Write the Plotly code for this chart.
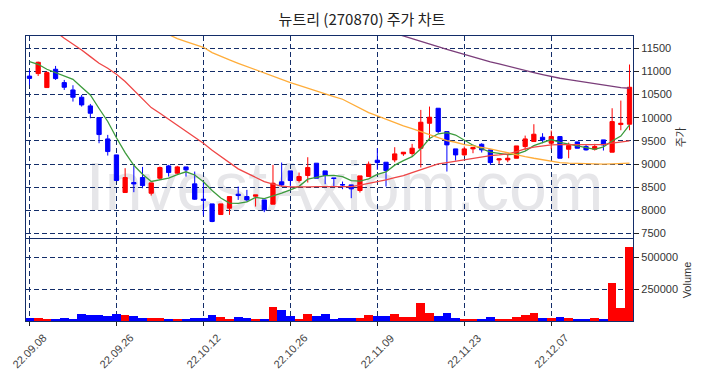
import plotly.graph_objects as go

dates = [
    "22.09.08", "22.09.13", "22.09.14", "22.09.15", "22.09.16", "22.09.19", "22.09.20", "22.09.21",
    "22.09.22", "22.09.23", "22.09.26", "22.09.27", "22.09.28", "22.09.29", "22.09.30",
    "22.10.04", "22.10.05", "22.10.06", "22.10.07", "22.10.11", "22.10.12", "22.10.13", "22.10.14",
    "22.10.17", "22.10.18", "22.10.19", "22.10.20", "22.10.21", "22.10.24", "22.10.25", "22.10.26",
    "22.10.27", "22.10.28", "22.10.31",
    "22.11.01", "22.11.02", "22.11.03", "22.11.04", "22.11.07", "22.11.08", "22.11.09", "22.11.10",
    "22.11.11", "22.11.14", "22.11.15", "22.11.16", "22.11.17", "22.11.18", "22.11.21", "22.11.22",
    "22.11.23", "22.11.24", "22.11.25", "22.11.28", "22.11.29", "22.11.30",
    "22.12.01", "22.12.02", "22.12.05", "22.12.06", "22.12.07", "22.12.08", "22.12.09", "22.12.12",
    "22.12.13", "22.12.14", "22.12.15", "22.12.16", "22.12.19", "22.12.20",
]

opens = [10900, 10954, 10652, 11047, 10759, 10601, 10443, 10256, 10005, 9544,
         9199, 8387, 8602, 8710, 8372, 8696, 8962, 8804, 8940, 8574,
         8243, 8142, 7912, 8049, 8350, 8300, 8307, 8228, 8135, 8617,
         8854, 8646, 8754, 9020, 8854, 8703, 8559, 8552, 8430, 8732,
         9084, 9041, 9091, 9221, 9230, 9343, 9882, 10206, 9703, 9329,
         9199, 9329, 9429, 9307, 9091, 9091, 9127, 9379, 9487, 9580,
         9451, 9595, 9321, 9480, 9379, 9321, 9523, 9257, 9854, 9861]
highs = [11030, 11212, 11000, 11119, 10817, 10702, 10493, 10299, 10005, 9631,
         9199, 8912, 8962, 8940, 8595, 8948, 8984, 8962, 8940, 8840,
         8624, 8142, 8142, 8300, 8516, 8444, 8336, 8228, 8984, 9034,
         8854, 8818, 9149, 9020, 8854, 8703, 8624, 8552, 8746, 9056,
         9343, 9041, 9365, 9257, 9437, 10170, 10242, 10206, 9703, 9329,
         9379, 9357, 9451, 9307, 9127, 9199, 9393, 9616, 9861, 9667,
         9724, 9595, 9465, 9480, 9429, 9437, 9523, 10206, 10371, 11150]
lows = [10710, 10903, 10652, 10817, 10601, 10350, 10242, 9990, 9451, 9185,
        8646, 8387, 8394, 8480, 8322, 8660, 8732, 8790, 8732, 8229,
        7891, 7747, 7905, 7905, 8228, 8193, 8084, 7963, 8135, 8516,
        8516, 8602, 8602, 8696, 8567, 8516, 8459, 8265, 8387, 8732,
        8876, 8516, 9041, 9178, 9178, 8926, 9523, 9667, 8840, 9077,
        9178, 9235, 9250, 8984, 9005, 9041, 9127, 9307, 9487, 9451,
        9321, 9127, 9127, 9343, 9293, 9293, 9293, 9257, 9731, 9731]
closes = [10850, 11198, 10975, 10846, 10659, 10443, 10278, 10098, 9638, 9271,
          8646, 8710, 8573, 8537, 8595, 8926, 8818, 8940, 8876, 8243,
          8221, 7761, 8142, 8300, 8322, 8228, 8336, 8013, 8588, 8552,
          8646, 8732, 8926, 8696, 8754, 8689, 8552, 8466, 8746, 8998,
          9034, 8861, 9221, 9257, 9343, 9904, 10012, 9703, 9415, 9199,
          9329, 9357, 9307, 9034, 9113, 9127, 9393, 9544, 9645, 9523,
          9595, 9127, 9400, 9343, 9307, 9379, 9415, 9918, 9882, 10659]

volumes = [23700, 23700, 15800, 15800, 23700, 15800, 55000, 47000, 47000, 39000,
           55000, 47000, 39000, 23700, 23700, 23700, 15800, 8000, 15800, 23700,
           23700, 47000, 31500, 8000, 31500, 23700, 8000, 15800, 110000, 87000,
           39000, 15800, 55000, 39000, 55000, 15800, 23700, 23700, 23700, 47000,
           39000, 39000, 55000, 31500, 31500, 142000, 63000, 39000, 63000, 23700,
           15800, 8000, 15800, 31500, 8000, 15800, 31500, 47000, 63000, 23700,
           23700, 31500, 23700, 8000, 8000, 23700, 15800, 300000, 102000, 584000]

ma5 = [11212, 11155, 11047, 10975, 10903, 10831, 10659, 10493, 10200, 9920,
       9570, 9250, 8975, 8780, 8625, 8670, 8700, 8775, 8835, 8765,
       8620, 8430, 8270, 8160, 8155, 8185, 8280, 8255, 8310, 8375,
       8445, 8520, 8675, 8720, 8750, 8755, 8728, 8645, 8632, 8682,
       8780, 8830, 8978, 9075, 9160, 9330, 9553, 9655, 9678, 9628,
       9510, 9408, 9332, 9258, 9231, 9205, 9215, 9280, 9400, 9470,
       9530, 9470, 9435, 9395, 9360, 9320, 9374, 9500, 9605, 9848]
ma20 = [12205, 12090, 11975, 11860, 11716, 11593, 11464, 11320, 11176, 11069,
        10939, 10781, 10601, 10421, 10220, 10098, 9969, 9825, 9703, 9580,
        9451, 9300, 9163, 9027, 8897, 8804, 8717, 8624, 8567, 8523,
        8509, 8502, 8509, 8516, 8516, 8516, 8516, 8516, 8545, 8581,
        8624, 8660, 8710, 8753, 8818, 8876, 8933, 9005, 9034, 9063,
        9106, 9127, 9163, 9185, 9199, 9221, 9271, 9329, 9365, 9393,
        9415, 9422, 9422, 9415, 9408, 9408, 9422, 9451, 9472, 9501]
ma60 = [None] * 12 + [
        12147, 12061, 11975, 11888, 11795, 11709, 11644, 11586,
        11522, 11407, 11320, 11248, 11176, 11104, 11032, 10961, 10889, 10817,
        10759, 10702, 10637, 10580, 10515, 10458, 10400, 10299, 10206, 10112,
        10040, 9969, 9882, 9825, 9767, 9703, 9638, 9566, 9508, 9472,
        9422, 9393, 9365, 9329, 9286, 9242, 9206, 9163, 9127, 9091,
        9055, 9034, 9020, 9012, 9005, 8998, 8998, 9005, 9012, 9020]
ma120 = [None] * 38 + [
         12054, 11996,
         11939, 11881, 11824, 11752, 11694, 11637, 11579, 11536, 11478, 11421,
         11363, 11306, 11263, 11205, 11162, 11112, 11069, 11018, 10975, 10932,
         10889, 10853, 10824, 10795, 10767, 10731, 10702, 10673, 10652, 10637]

price_ticks = [7500, 8000, 8500, 9000, 9500, 10000, 10500, 11000, 11500]
vol_ticks = [250000, 500000]
x_tick_labels = ["22.09.08", "22.09.26", "22.10.12", "22.10.26", "22.11.09", "22.11.23", "22.12.07"]

UP = "#FF0000"
DOWN = "#0000FF"
NAVY = "#132d69"
GRID_DASH = "5px,3px"

W, H = 696, 370

fig = go.Figure()

fig.add_trace(go.Candlestick(
    x=dates, open=opens, high=highs, low=lows, close=closes,
    increasing=dict(line=dict(color=UP, width=1), fillcolor=UP),
    decreasing=dict(line=dict(color=DOWN, width=1), fillcolor=DOWN),
    whiskerwidth=0, showlegend=False, hoverinfo="skip",
    xaxis="x", yaxis="y",
))

for vals, col in [(ma5, "#3c9b3c"), (ma20, "#ef4646"), (ma60, "#ffad3a"), (ma120, "#7a3d7a")]:
    fig.add_trace(go.Scatter(
        x=dates, y=vals, mode="lines", line=dict(color=col, width=1.3),
        showlegend=False, hoverinfo="skip", xaxis="x", yaxis="y",
    ))

vol_colors = [UP if c >= o else DOWN for o, c in zip(opens, closes)]
fig.add_trace(go.Bar(
    x=dates, y=volumes, marker=dict(color=vol_colors, line=dict(width=0)),
    showlegend=False, hoverinfo="skip", xaxis="x2", yaxis="y2",
))

axis_common = dict(
    showline=True, linecolor=NAVY, linewidth=1.3, mirror=True,
    showgrid=True, gridcolor=NAVY, gridwidth=1, griddash=GRID_DASH,
    zeroline=False, automargin=False,
)

# rotated date labels centred under their ticks
date_annotations = [
    dict(
        x=lbl, xref="x2", y=-0.105, yref="paper",
        text=lbl, textangle=-45, showarrow=False,
        xanchor="center", yanchor="middle",
        font=dict(family="Liberation Sans, Arial", size=11, color="#444444"),
    )
    for lbl in x_tick_labels
]

fig.update_layout(
    width=W, height=H,
    margin=dict(l=18, r=71, t=28, b=57),
    paper_bgcolor="white", plot_bgcolor="white",
    bargap=0,
    font=dict(family="Liberation Sans, Arial, Noto Sans CJK KR", size=11, color="#333333"),
    title=dict(
        text="뉴트리 (270870) 주가 차트",
        font=dict(family="Noto Sans CJK KR", size=15, color="#222222"),
        x=354 / W, xref="container", xanchor="center",
        y=1 - 12 / H, yref="container", yanchor="middle",
        automargin=False,
    ),
    xaxis=dict(
        axis_common, type="category", domain=[0, 1], anchor="y",
        range=[-0.4, 69.4], tickvals=x_tick_labels, showticklabels=False,
        ticks="", rangeslider=dict(visible=False),
    ),
    yaxis=dict(
        axis_common, domain=[0.2895, 1], anchor="x", side="right",
        range=[7395, 11765], tickvals=price_ticks, ticktext=[str(v) for v in price_ticks],
        ticks="outside", ticklen=5, tickcolor="#222222", tickwidth=1,
        tickfont=dict(size=11, color="#333333"),
        title=dict(text="주가", font=dict(family="Noto Sans CJK KR", size=11, color="#333333"), standoff=6),
    ),
    xaxis2=dict(
        axis_common, type="category", domain=[0, 1], anchor="y2", matches="x",
        range=[-0.4, 69.4], tickvals=x_tick_labels, showticklabels=False,
        ticks="outside", ticklen=4, tickcolor="#222222",
    ),
    yaxis2=dict(
        axis_common, domain=[0, 0.2877], anchor="x2", side="right",
        range=[0, 647000], tickvals=vol_ticks, ticktext=[str(v) for v in vol_ticks],
        ticks="outside", ticklen=5, tickcolor="#222222", tickwidth=1,
        tickfont=dict(size=11, color="#333333"),
        title=dict(text="Volume", font=dict(size=11, color="#333333"), standoff=6),
    ),
    annotations=date_annotations,
    shapes=[dict(
        type="rect", xref="paper", yref="paper",
        x0=0.0, x1=1.05, y0=0.346, y1=0.646, layer="below",
        line=dict(width=0), fillcolor="rgba(0,0,0,0)",
        label=dict(
            text="InvestAxiom.com", textposition="middle center",
            font=dict(family="Liberation Sans, Arial", size=68, color="#e6e6e9"),
        ),
    )],
)

fig.write_html("out.html")
